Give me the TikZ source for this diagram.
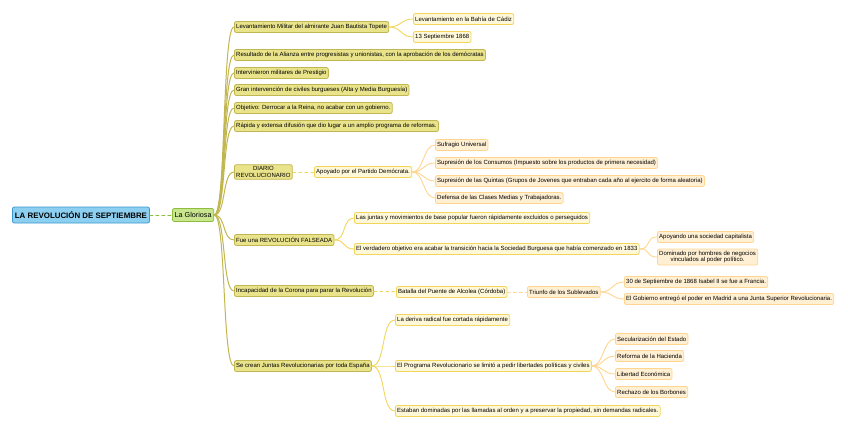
\documentclass[tikz,border=0pt]{standalone}
\usepackage{fontspec}
\setmainfont{Liberation Sans}
\usetikzlibrary{positioning}

\definecolor{rootfill}{HTML}{8DCFF0}
\definecolor{rootline}{HTML}{3C98CF}
\definecolor{glorfill}{HTML}{C9E68F}
\definecolor{glorline}{HTML}{8CBD3F}
\definecolor{onefill}{HTML}{E9E38C}
\definecolor{oneline}{HTML}{C2B650}
\definecolor{twofill}{HTML}{FFF8D8}
\definecolor{twoline}{HTML}{F2D65C}
\definecolor{threefill}{HTML}{FFEFD3}
\definecolor{threeline}{HTML}{FFD590}

\tikzset{
  box/.style={draw, rounded corners=2pt, line width=0.8pt, inner sep=1.8pt,
    anchor=west, minimum height=11pt, font=\fontsize{6}{6.8}\selectfont},
  rootbox/.style={box, fill=rootfill, draw=rootline, minimum height=16pt,
    inner sep=2.5pt, font=\bfseries\fontsize{7.9}{9}\selectfont},
  glorbox/.style={box, fill=glorfill, draw=glorline, minimum height=13pt,
    inner sep=2.3pt, font=\fontsize{7.2}{8}\selectfont},
  onebox/.style={box, fill=onefill, draw=oneline},
  twobox/.style={box, fill=twofill, draw=twoline},
  threebox/.style={box, fill=threefill, draw=threeline},
  onelink/.style={draw=oneline, line width=1pt},
  twolink/.style={draw=twoline, line width=0.9pt},
  threelink/.style={draw=threeline, line width=0.9pt},
}

\begin{document}
\begin{tikzpicture}[x=1pt, y=-1pt, line cap=round, line join=round]
  \useasboundingbox (0,0) rectangle (848,431);

  % --- raiz ---
  \node[rootbox] (root) at (12,215) {LA REVOLUCIÓN DE SEPTIEMBRE};
  \node[glorbox] (glor) at (172,215) {La Gloriosa};
  \draw[onelink, draw=glorline, dashed] (root) -- (glor);

  % --- primer nivel ---
  \node[onebox] (topete) at (234,27) {Levantamiento Militar del almirante Juan Bautista Topete};
  \node[onebox] (alianza) at (234,55) {Resultado de la Alianza entre progresistas y unionistas, con la aprobación de los demócratas};
  \node[onebox] (militares) at (234,73) {Intervinieron militares de Prestigio};
  \node[onebox] (civiles) at (234,90) {Gran intervención de civiles burgueses (Alta y Media Burguesía)};
  \node[onebox] (objetivo) at (234,108) {Objetivo: Derrocar a la Reina, no acabar con un gobierno.};
  \node[onebox] (difusion) at (234,126) {Rápida y extensa difusión que dio lugar a un amplio programa de reformas.};
  \node[onebox, align=center] (diario) at (234,172) {DIARIO\\REVOLUCIONARIO};
  \node[onebox] (falseada) at (234,240) {Fue una REVOLUCIÓN FALSEADA};
  \node[onebox] (corona) at (234,291) {Incapacidad de la Corona para parar la Revolución};
  \node[onebox] (juntas) at (234,366) {Se crean Juntas Revolucionarias por toda España};

  \foreach \n in {topete,alianza,militares,civiles,objetivo,difusion,diario,falseada,corona,juntas}
    \draw[onelink] (glor.east) .. controls +(12,0) and +(-12,0) .. (\n.west);

  % --- Topete ---
  \node[twobox] (cadiz) at (413,19) {Levantamiento en la Bahía de Cádiz};
  \node[twobox] (fecha) at (413,37) {13 Septiembre 1868};
  \foreach \n in {cadiz,fecha}
    \draw[twolink] (topete.east) .. controls +(12,0) and +(-12,0) .. (\n.west);

  % --- Diario ---
  \node[twobox] (apoyado) at (314,172) {Apoyado por el Partido Demócrata.};
  \draw[twolink, dashed] (diario) -- (apoyado);
  \node[threebox] (sufragio) at (435,145) {Sufragio Universal};
  \node[threebox] (consumos) at (435,163) {Supresión de los Consumos (Impuesto sobre los productos de primera necesidad)};
  \node[threebox] (quintas) at (435,181) {Supresión de las Quintas (Grupos de Jovenes que entraban cada año al ejercito de forma aleatoria)};
  \node[threebox] (defensa) at (435,198) {Defensa de las Clases Medias y Trabajadoras.};
  \foreach \n in {sufragio,consumos,quintas,defensa}
    \draw[threelink] (apoyado.east) .. controls +(12,0) and +(-12,0) .. (\n.west);

  % --- Falseada ---
  \node[twobox] (excluidos) at (354,218) {Las juntas y movimientos de base popular fueron rápidamente excluidos o perseguidos};
  \node[twobox] (transicion) at (354,249) {El verdadero objetivo era acabar la transición hacia la Sociedad Burguesa que había comenzado en 1833};
  \foreach \n in {excluidos,transicion}
    \draw[twolink] (falseada.east) .. controls +(12,0) and +(-12,0) .. (\n.west);
  \node[threebox] (capitalista) at (657,237) {Apoyando una sociedad capitalista};
  \node[threebox, align=center] (negocios) at (657,257) {Dominado por hombres de negocios\\vinculados al poder político.};
  \foreach \n in {capitalista,negocios}
    \draw[threelink] (transicion.east) .. controls +(12,0) and +(-12,0) .. (\n.west);

  % --- Corona ---
  \node[twobox] (alcolea) at (396,292) {Batalla del Puente de Alcolea (Córdoba)};
  \draw[twolink, dashed] (corona) -- (alcolea);
  \node[threebox] (triunfo) at (527,292) {Triunfo de los Sublevados};
  \draw[threelink, dashed] (alcolea) -- (triunfo);
  \node[threebox] (isabel) at (624,282) {30 de Septiembre de 1868 Isabel II se fue a Francia.};
  \node[threebox] (gobierno) at (624,299) {El Gobierno entregó el poder en Madrid a una Junta Superior Revolucionaria.};
  \foreach \n in {isabel,gobierno}
    \draw[threelink] (triunfo.east) .. controls +(12,0) and +(-12,0) .. (\n.west);

  % --- Juntas ---
  \node[twobox] (deriva) at (395,320) {La deriva radical fue cortada rápidamente};
  \node[twobox] (programa) at (395,366) {El Programa Revolucionario se limitó a pedir libertades políticas y civiles};
  \node[twobox] (orden) at (395,411) {Estaban dominadas por las llamadas al orden y a preservar la propiedad, sin demandas radicales.};
  \foreach \n in {deriva,programa,orden}
    \draw[twolink] (juntas.east) .. controls +(14,0) and +(-14,0) .. (\n.west);
  \node[threebox] (secular) at (615,339) {Secularización del Estado};
  \node[threebox] (hacienda) at (615,356) {Reforma de la Hacienda};
  \node[threebox] (libertad) at (615,374) {Libertad Económica};
  \node[threebox] (borbones) at (615,392) {Rechazo de los Borbones};
  \foreach \n in {secular,hacienda,libertad,borbones}
    \draw[threelink] (programa.east) .. controls +(12,0) and +(-12,0) .. (\n.west);
\end{tikzpicture}
\end{document}
